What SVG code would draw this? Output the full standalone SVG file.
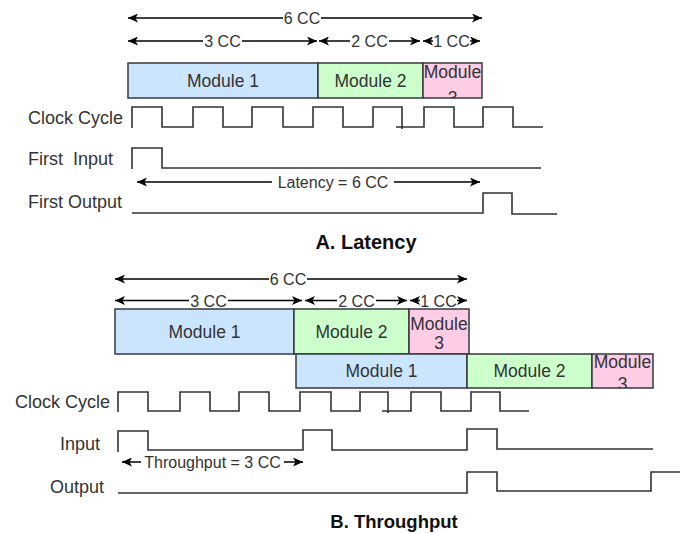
<svg xmlns="http://www.w3.org/2000/svg" width="697" height="533" viewBox="0 0 697 533">
<style>
text{font-family:"Liberation Sans",Arial,sans-serif;fill:#333}
.lbl{font-size:18px}
.cc{font-size:16px;text-anchor:middle;fill:#333}
.mt{font-size:17.5px;text-anchor:middle}
.m1{fill:#cce5ff;stroke:#36393d;stroke-width:1.5}
.m2{fill:#ccffcc;stroke:#36393d;stroke-width:1.5}
.m3{fill:#ffcce6;stroke:#36393d;stroke-width:1.5}
.dim{stroke:#000;stroke-width:1.5;fill:none;marker-start:url(#ah);marker-end:url(#ah)}
.bg{fill:#fff}
.wave{fill:none;stroke:#333;stroke-width:1.6}
.title{font-size:20px;font-weight:bold;text-anchor:middle;fill:#111}
</style>
<defs>
<marker id="ah" viewBox="0 0 10 9" refX="10" refY="4.5" markerWidth="10" markerHeight="9" markerUnits="userSpaceOnUse" orient="auto-start-reverse">
<path d="M0,0 L10,4.5 L0,9 L2.5,4.5 z" fill="#000"/>
</marker>
<clipPath id="cA3"><rect x="423" y="55" width="59" height="43"/></clipPath>
<clipPath id="cB3"><rect x="592" y="350" width="61" height="38"/></clipPath>
</defs>

<!-- connectors / dimension arrows -->
<g id="connectors">
<line class="dim" x1="128" y1="18" x2="482" y2="18"/>
<line class="dim" x1="128" y1="41" x2="317" y2="41"/>
<line class="dim" x1="319" y1="41" x2="420" y2="41"/>
<line class="dim" x1="423" y1="41" x2="480" y2="41"/>
<line class="dim" x1="137" y1="182" x2="480" y2="182"/>
<line class="dim" x1="115" y1="279" x2="467" y2="279"/>
<line class="dim" x1="115" y1="300.5" x2="302" y2="300.5"/>
<line class="dim" x1="305" y1="300.5" x2="407" y2="300.5"/>
<line class="dim" x1="410" y1="300.5" x2="467" y2="300.5"/>
<line class="dim" x1="122" y1="462" x2="303" y2="462"/>
</g>

<g id="dim-labels">
<rect class="bg" x="283" y="10" width="38" height="16"/><text class="cc" x="302" y="24">6 CC</text>
<rect class="bg" x="203" y="33" width="39" height="16"/><text class="cc" x="222.5" y="47">3 CC</text>
<rect class="bg" x="350" y="33" width="39" height="16"/><text class="cc" x="369.5" y="47">2 CC</text>
<rect class="bg" x="433" y="33" width="37" height="16"/><text class="cc" x="451.5" y="47">1 CC</text>
<rect class="bg" x="272" y="174" width="122" height="16"/><text class="cc" x="333" y="188">Latency = 6 CC</text>
<rect class="bg" x="269" y="271" width="38" height="16"/><text class="cc" x="288" y="285">6 CC</text>
<rect class="bg" x="189" y="292" width="39" height="16"/><text class="cc" x="208.5" y="306.5">3 CC</text>
<rect class="bg" x="337" y="292" width="39" height="16"/><text class="cc" x="356.5" y="306.5">2 CC</text>
<rect class="bg" x="420" y="292" width="37" height="16"/><text class="cc" x="438.5" y="306.5">1 CC</text>
<rect class="bg" x="141" y="454" width="143" height="16"/><text class="cc" x="212.5" y="468">Throughput = 3 CC</text>
</g>

<!-- A. Latency modules -->
<g id="a-module1"><rect class="m1" x="128" y="63" width="190" height="35"/><text class="mt" x="223" y="87">Module 1</text></g>
<g id="a-module2"><rect class="m2" x="318" y="63" width="105" height="35"/><text class="mt" x="370.5" y="87">Module 2</text></g>
<g id="a-module3"><rect class="m3" x="423" y="63" width="59" height="35"/>
<g clip-path="url(#cA3)"><text class="mt" x="452.5" y="78">Module</text><text class="mt" x="452.5" y="104">3</text></g></g>

<!-- B. Throughput modules -->
<g id="b-module1"><rect class="m1" x="115" y="309" width="179" height="45"/><text class="mt" x="204.5" y="338">Module 1</text></g>
<g id="b-module2"><rect class="m2" x="294" y="309" width="115" height="45"/><text class="mt" x="351.5" y="338">Module 2</text></g>
<g id="b-module3"><rect class="m3" x="409" y="309" width="60" height="45"/><text class="mt" x="439" y="329.5">Module</text><text class="mt" x="439" y="349">3</text></g>
<g id="b2-module1"><rect class="m1" x="296" y="354" width="171" height="34"/><text class="mt" x="381.5" y="377">Module 1</text></g>
<g id="b2-module2"><rect class="m2" x="467" y="354" width="125" height="34"/><text class="mt" x="529.5" y="377">Module 2</text></g>
<g id="b2-module3"><rect class="m3" x="592" y="354" width="61" height="34"/>
<g clip-path="url(#cB3)"><text class="mt" x="622.5" y="368">Module</text><text class="mt" x="622.5" y="390">3</text></g></g>

<!-- row labels -->
<text class="lbl" x="28" y="124">Clock Cycle</text>
<text class="lbl" x="28" y="165" xml:space="preserve">First  Input</text>
<text class="lbl" x="28" y="208">First Output</text>
<text class="lbl" x="15" y="408">Clock Cycle</text>
<text class="lbl" x="60" y="450">Input</text>
<text class="lbl" x="50" y="493">Output</text>

<!-- waveforms -->
<path class="wave" d="M132,128 V107 H162 V127 H193 V107 H223 V127 H252 V107 H283 V127 H313 V107 H343 V127 H373 V107 H402 V129"/>
<path class="wave" d="M396,127 H424 V107 H454 V127 H483 V107 H513 V127 H543"/>
<path class="wave" d="M132,169 V148 H162 V168 H541"/>
<path class="wave" d="M132,213 H483 V193 H512 V214 H557"/>
<path class="wave" d="M118,412 V392 H148 V411 H180 V392 H210 V411 H239 V392 H269 V411 H300 V392 H331 V411 H360 V392 H388 V413"/>
<path class="wave" d="M382,411 H411 V392 H441 V411 H471 V392 H500 V411 H529"/>
<path class="wave" d="M118,452 V431 H148 V450 H303 V430 H332 V450 H467 V429 H497 V449 H653"/>
<path class="wave" d="M118,493 H467 V472 H497 V491 H651 V472 H680"/>

<!-- titles -->
<text class="title" x="366" y="249">A. Latency</text>
<text class="title" x="394" y="528" style="font-size:18.5px">B. Throughput</text>
</svg>
